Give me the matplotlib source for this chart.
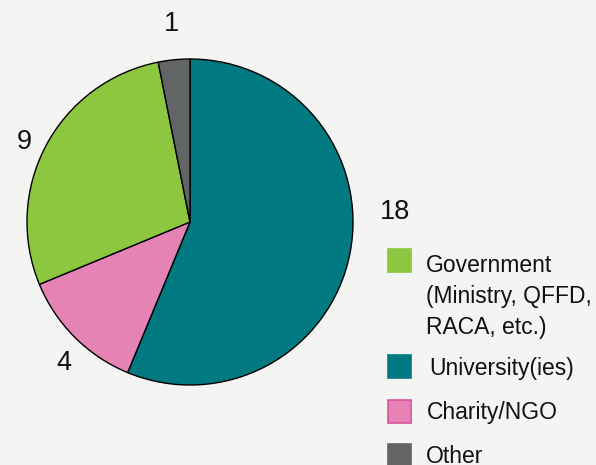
import matplotlib
matplotlib.use("Agg")
import matplotlib.pyplot as plt
from matplotlib.patches import Rectangle

categories = ["University(ies)", "Charity/NGO", "Government\n(Ministry, QFFD,\nRACA, etc.)", "Other"]
values = [18, 4, 9, 1]
colors = ["#007a80", "#e583b5", "#8dc63f", "#636466"]

legend_order = [2, 0, 1, 3]

plt.rcParams['font.family'] = ['Liberation Sans', 'DejaVu Sans']
bg = "#f4f4f2"
fig = plt.figure(figsize=(5.96, 4.65), dpi=100, facecolor=bg)
ax = fig.add_axes([0, 0, 1, 1])
ax.set_facecolor(bg)

cx, cy, r = 190, 222, 163
wedges, _ = ax.pie(values, colors=colors, startangle=-90, counterclock=True,
                   center=(cx, cy), radius=r, frame=True,
                   wedgeprops=dict(edgecolor='black', linewidth=1.0))
ax.set_xlim(0, 596)
ax.set_ylim(465, 0)
ax.set_aspect('equal')
ax.axis('off')

# value labels (center x, baseline y)
label_pos = [(395, 219), (64, 370), (24, 149), (172, 31)]
for v, (x, y) in zip(values, label_pos):
    ax.text(x, y, str(v), fontsize=19.5, ha='center', va='baseline', color='#111111')

# legend
sq = 23
square_top = [249, 355, 400, 444]
text_x = [426, 429, 427, 426]
baselines = [[272, 303, 334], [375], [419], [463]]
for k, idx in enumerate(legend_order):
    ec = "#d9549a" if idx == 1 else colors[idx]
    ax.add_patch(Rectangle((388, square_top[k]), sq, sq, facecolor=colors[idx],
                           edgecolor=ec, linewidth=1.2))
    for line, by in zip(categories[idx].split("\n"), baselines[k]):
        ax.text(text_x[k], by, line, fontsize=16.5, ha='left', va='baseline',
                color='#111111')

fig.savefig("out.png", dpi=100, facecolor=bg)
